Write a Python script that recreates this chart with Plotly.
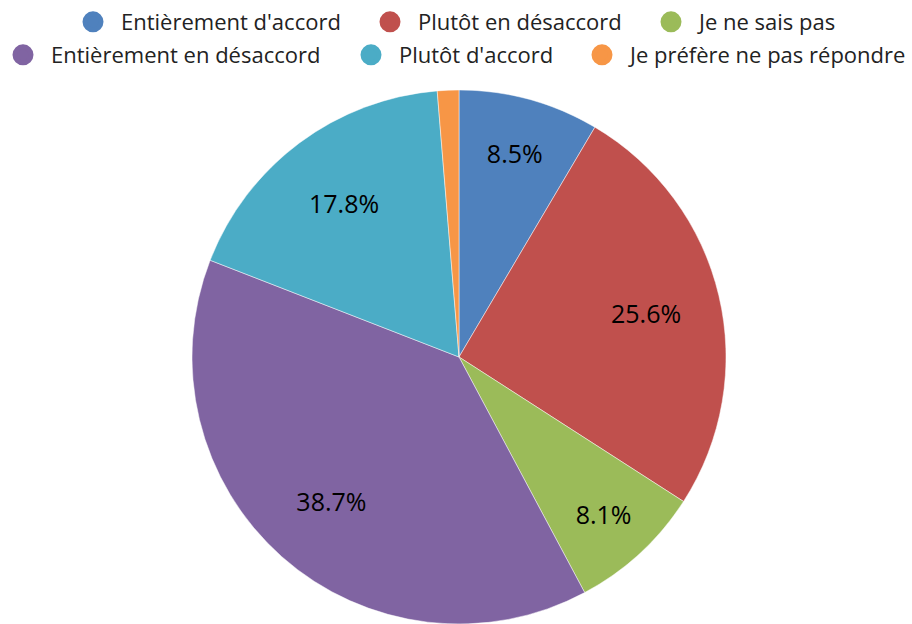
import plotly.graph_objects as go

labels = ["Entièrement d'accord", "Plutôt en désaccord", "Je ne sais pas",
          "Entièrement en désaccord", "Plutôt d'accord", "Je préfère ne pas répondre"]
values = [8.5, 25.6, 8.1, 38.7, 17.8, 1.3]
colors = ["#4F81BD", "#C0504D", "#9BBB59", "#8064A2", "#4BACC6", "#F79646"]
show_label = [True, True, True, True, True, False]

W, H = 912, 624
cx, cy, R = 459, 357, 267
# legend symbol centres (px) for each entry
leg_x = [93, 390, 671, 23, 371, 602]
leg_y = [22, 22, 22, 55, 55, 55]
ITEMW = 46  # symbol centre at ITEMW/2+5, text starts at ITEMW+10

dom = dict(x=[(cx - R) / W, (cx + R) / W], y=[max(0, 1 - (cy + R) / H), 1 - (cy - R) / H])

fig = go.Figure()
fig.add_trace(go.Pie(
    labels=labels, values=values, sort=False, direction="clockwise", rotation=0,
    marker=dict(colors=colors, line=dict(color="rgba(255,255,255,0.6)", width=0.8)),
    textinfo="none", showlegend=False, hoverinfo="label+percent", domain=dom,
))
# transparent ring carrying the percentage labels at the reference radius
fig.add_trace(go.Pie(
    labels=labels, values=values, sort=False, direction="clockwise", rotation=0,
    hole=0.44,
    marker=dict(colors=["rgba(0,0,0,0)"] * len(values), line=dict(width=0)),
    texttemplate=["%{value:.1f}%" if s else "" for s in show_label],
    textposition="inside", insidetextorientation="horizontal",
    textfont=dict(family="Open Sans", size=25, color="#000000"),
    showlegend=False, hoverinfo="skip", domain=dom,
))

layout_legends = {}
for i, (lab, col) in enumerate(zip(labels, colors)):
    key = "legend" if i == 0 else f"legend{i + 1}"
    fig.add_trace(go.Scatter(
        x=[None], y=[None], mode="markers", name=lab, legend=key,
        marker=dict(symbol="circle", size=16, color=col, line=dict(color=col, width=5)),
    ))
    layout_legends[key] = dict(
        orientation="h", xanchor="left", yanchor="middle", itemwidth=ITEMW,
        x=(leg_x[i] - ITEMW / 2 - 5) / W, y=1 - leg_y[i] / H,
        font=dict(family="Open Sans", size=22, color="#222222"),
        bgcolor="rgba(0,0,0,0)", borderwidth=0, itemclick=False, itemdoubleclick=False,
    )

fig.update_layout(
    width=W, height=H, margin=dict(l=0, r=0, t=0, b=0, autoexpand=False),
    paper_bgcolor="white", plot_bgcolor="white",
    xaxis=dict(visible=False), yaxis=dict(visible=False),
    **layout_legends,
)

fig.write_html("out.html", config={"displayModeBar": False},
               post_script="document.body.style.margin='0px';document.body.style.overflow='hidden';")
